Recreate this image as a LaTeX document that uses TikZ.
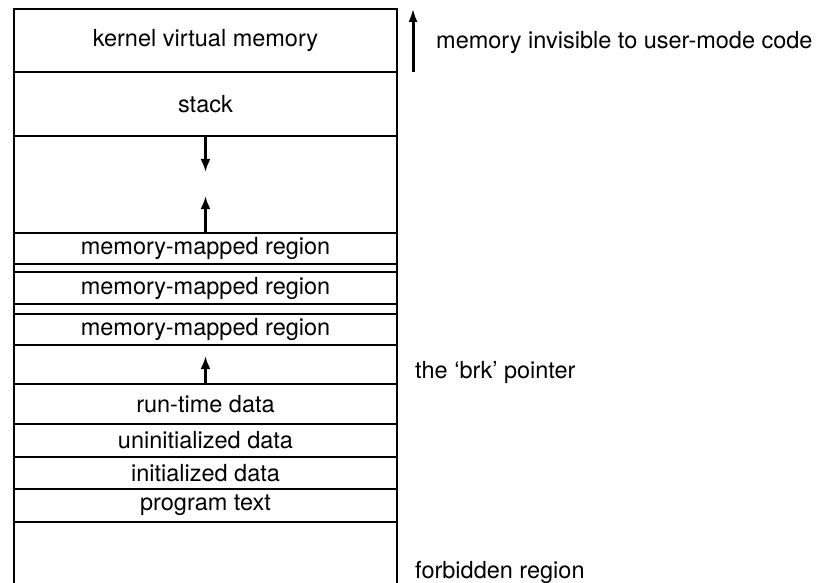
\documentclass[tikz,border=0pt]{standalone}
\usepackage{fontspec}
\setmainfont{TeX Gyre Heros}
\usetikzlibrary{arrows.meta}
\begin{document}
\begin{tikzpicture}[x=1pt,y=-1pt,
  region/.style={draw, line width=1.9pt, minimum width=383pt, inner sep=0pt,
    font=\fontsize{23.5}{28}\selectfont},
  label/.style={inner sep=0pt, font=\fontsize{23.5}{28}\selectfont},
  arr/.style={line width=2.4pt, -{Latex[length=13pt,width=10pt]}},
  bigarr/.style={line width=3pt, -{Latex[length=14pt,width=9pt]}}]
\useasboundingbox (0,0) rectangle (822,583);
% outer side lines
\draw[line width=1.9pt] (14,9) -- (14,583);
\draw[line width=1.9pt] (397,9) -- (397,583);
% regions
\node[region, minimum height=63pt] (kernel) at (205.5,40.5) {kernel virtual memory};
\node[region, minimum height=64pt] (stack) at (205.5,104) {stack};
\node[region, minimum height=97pt] (mgap) at (205.5,184.5) {};
\node[region, minimum height=31pt] (mm1) at (205.5,248.5) {\raisebox{-2pt}{memory-mapped region}};
\node[region, minimum height=32pt] (mm2) at (205.5,288) {memory-mapped region};
\node[region, minimum height=31pt] (mm3) at (205.5,329.5) {memory-mapped region};
\node[region, minimum height=39pt] (heap) at (205.5,364.5) {};
\node[region, minimum height=40pt] (rt) at (205.5,404) {run-time data};
\node[region, minimum height=33pt] (uninit) at (205.5,440.5) {uninitialized data};
\node[region, minimum height=32pt] (init) at (205.5,473) {initialized data};
\node[region, minimum height=33pt] (text) at (205.5,505.5) {program text};
% growth arrows
\coordinate (sdown) at (205.5,172);
\coordinate (mup) at (205.5,196);
\coordinate (bup) at (205.5,356);
\draw[arr] (stack.south) -- (sdown);
\draw[arr] (mm1.north) -- (mup);
\draw[arr] (rt.north) -- (bup);
% right-hand annotations
\coordinate (kb) at (413,72);
\coordinate (kt) at (413,8);
\draw[bigarr] (kb) -- (kt);
\node[label, anchor=base west] (inv) at (436,49) {memory invisible to user-mode code};
\node[label, anchor=base west] (brk) at (415,378) {the ‘brk’ pointer};
\node[label, anchor=base west] (forb) at (415,578) {forbidden region};
\end{tikzpicture}
\end{document}
